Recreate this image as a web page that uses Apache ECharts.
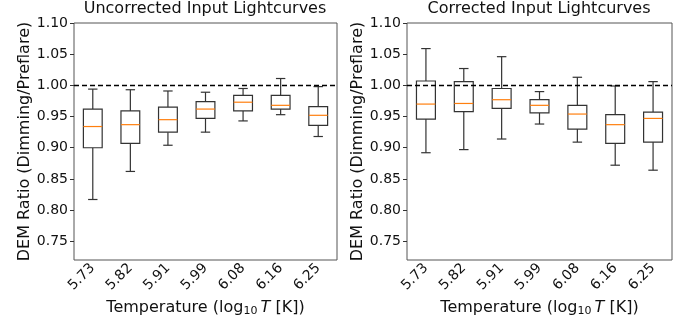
<!DOCTYPE html>
<html>
<head>
<meta charset="utf-8">
<script src="https://cdn.jsdelivr.net/npm/echarts@6/dist/echarts.min.js"></script>
<style>
  html, body { margin: 0; padding: 0; background: #fff; }
  #main { width: 691px; height: 325px; }
</style>
</head>
<body>
<div id="main"></div>
<script>
// temperature bins (log10 T)
var temps = ['5.73', '5.82', '5.91', '5.99', '6.08', '6.16', '6.25'];
var yTicks = [0.75, 0.80, 0.85, 0.90, 0.95, 1.00, 1.05, 1.10];

// uncorrected: whisker low, q1, median, q3, whisker high
var uncLow  = [0.817, 0.862, 0.904, 0.925, 0.943, 0.953, 0.918];
var uncQ1   = [0.900, 0.907, 0.925, 0.947, 0.959, 0.962, 0.936];
var uncMed  = [0.934, 0.937, 0.945, 0.962, 0.973, 0.968, 0.952];
var uncQ3   = [0.962, 0.959, 0.965, 0.974, 0.984, 0.984, 0.966];
var uncHigh = [0.994, 0.993, 0.991, 0.989, 0.995, 1.011, 0.998];

// corrected
var corLow  = [0.892, 0.897, 0.914, 0.938, 0.909, 0.872, 0.864];
var corQ1   = [0.946, 0.958, 0.963, 0.956, 0.930, 0.907, 0.909];
var corMed  = [0.970, 0.971, 0.977, 0.968, 0.954, 0.937, 0.947];
var corQ3   = [1.007, 1.006, 0.995, 0.977, 0.968, 0.953, 0.957];
var corHigh = [1.059, 1.027, 1.046, 0.990, 1.013, 0.999, 1.006];

var FONT = 'DejaVu Sans';
var boxColor = '#333';
var medColor = '#ff7f0e';

function buildData(low, q1, med, q3, high) {
    var out = [];
    for (var i = 0; i < temps.length; i++) {
        out.push([i, low[i], q1[i], med[i], q3[i], high[i]]);
    }
    return out;
}

function renderBox(params, api) {
    var x = api.value(0);
    var lo = api.coord([x, api.value(1)]);
    var q1 = api.coord([x, api.value(2)]);
    var md = api.coord([x, api.value(3)]);
    var q3 = api.coord([x, api.value(4)]);
    var hi = api.coord([x, api.value(5)]);
    var band = api.size([1, 0])[0];
    var hw = band * 0.25;
    var cw = band * 0.125;
    var cx = lo[0];
    var ls = { stroke: boxColor, lineWidth: 1.2, fill: null };
    return {
        type: 'group',
        children: [
            { type: 'line', shape: { x1: cx, y1: lo[1], x2: cx, y2: q1[1] }, style: ls },
            { type: 'line', shape: { x1: cx, y1: q3[1], x2: cx, y2: hi[1] }, style: ls },
            { type: 'line', shape: { x1: cx - cw, y1: lo[1], x2: cx + cw, y2: lo[1] }, style: ls },
            { type: 'line', shape: { x1: cx - cw, y1: hi[1], x2: cx + cw, y2: hi[1] }, style: ls },
            { type: 'rect', shape: { x: cx - hw, y: q3[1], width: hw * 2, height: q1[1] - q3[1] },
              style: { stroke: boxColor, lineWidth: 1.2, fill: '#fff' } },
            { type: 'line', shape: { x1: cx - hw, y1: md[1], x2: cx + hw, y2: md[1] },
              style: { stroke: medColor, lineWidth: 1.2 } }
        ]
    };
}

function xAxisFor(idx) {
    return {
        type: 'category', gridIndex: idx, data: temps,
        axisLine: { show: false },
        axisTick: { alignWithLabel: true, length: 4, lineStyle: { color: boxColor } },
        axisLabel: { rotate: 45, fontSize: 14, color: '#111', fontFamily: FONT, margin: 6 },
        name: 'Temperature (log{sub|10}\u2009{it|T} [K])',
        nameLocation: 'middle', nameGap: 38,
        nameTextStyle: {
            fontSize: 16, color: '#111', fontFamily: FONT,
            rich: {
                sub: { fontSize: 11, fontFamily: FONT, color: '#111', verticalAlign: 'bottom', padding: [6, 0, 0, 0] },
                it: { fontSize: 16, fontStyle: 'italic', fontFamily: FONT, color: '#111' }
            }
        }
    };
}

function yAxisFor(idx) {
    return {
        type: 'value', gridIndex: idx, min: 0.72, max: 1.10,
        axisLine: { show: false },
        splitLine: { show: false },
        axisTick: { show: true, length: 4, customValues: yTicks, lineStyle: { color: boxColor } },
        axisLabel: {
            fontSize: 14, color: '#111', fontFamily: FONT, margin: 6,
            customValues: yTicks,
            formatter: function (v) { return v.toFixed(2); }
        },
        name: 'DEM Ratio (Dimming/Preflare)',
        nameLocation: 'middle', nameGap: 41,
        nameTextStyle: { fontSize: 16, color: '#111', fontFamily: FONT }
    };
}

var myChart = echarts.init(document.getElementById('main'));

myChart.setOption({
    animation: false,
    title: [
        { text: 'Uncorrected Input Lightcurves', left: 205, top: 1, padding: 0, textAlign: 'center',
          textStyle: { fontSize: 16, fontWeight: 'normal', color: '#111', fontFamily: FONT } },
        { text: 'Corrected Input Lightcurves', left: 539, top: 1, padding: 0, textAlign: 'center',
          textStyle: { fontSize: 16, fontWeight: 'normal', color: '#111', fontFamily: FONT } }
    ],
    grid: [
        { left: 74, top: 23, width: 263, height: 237, show: true, borderColor: '#555', borderWidth: 1 },
        { left: 407, top: 23, width: 265, height: 237, show: true, borderColor: '#555', borderWidth: 1 }
    ],
    xAxis: [xAxisFor(0), xAxisFor(1)],
    yAxis: [yAxisFor(0), yAxisFor(1)],
    series: [
        {
            type: 'custom', xAxisIndex: 0, yAxisIndex: 0,
            data: buildData(uncLow, uncQ1, uncMed, uncQ3, uncHigh),
            encode: { x: 0, y: [1, 2, 3, 4, 5] },
            renderItem: renderBox, z: 3
        },
        {
            type: 'custom', xAxisIndex: 1, yAxisIndex: 1,
            data: buildData(corLow, corQ1, corMed, corQ3, corHigh),
            encode: { x: 0, y: [1, 2, 3, 4, 5] },
            renderItem: renderBox, z: 3
        },
        {
            type: 'line', xAxisIndex: 0, yAxisIndex: 0, data: [], z: 5,
            markLine: { silent: true, symbol: 'none', label: { show: false },
                lineStyle: { color: '#000', type: [5, 3], width: 1.3 }, data: [{ yAxis: 1.0 }] }
        },
        {
            type: 'line', xAxisIndex: 1, yAxisIndex: 1, data: [], z: 5,
            markLine: { silent: true, symbol: 'none', label: { show: false },
                lineStyle: { color: '#000', type: [5, 3], width: 1.3 }, data: [{ yAxis: 1.0 }] }
        }
    ]
});
window.onresize = myChart.resize;
</script>
</body>
</html>
